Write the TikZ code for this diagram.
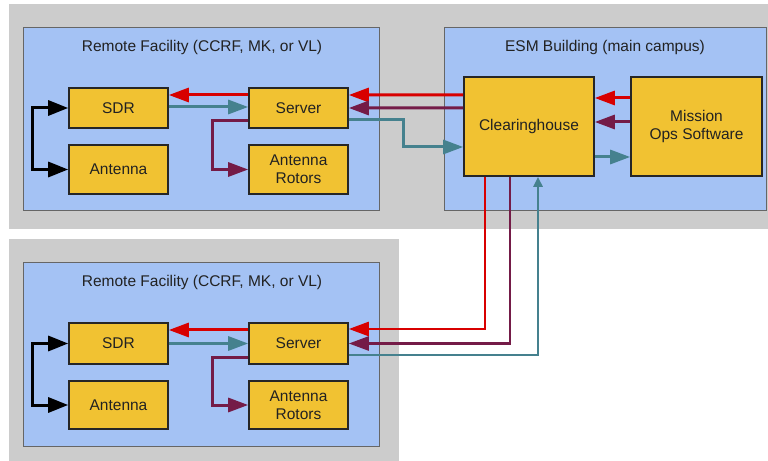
\documentclass[tikz,border=0pt]{standalone}
\usepackage{fontspec}
\setmainfont{Liberation Sans}
\usetikzlibrary{arrows.meta}
\definecolor{bggray}{HTML}{CCCCCC}
\definecolor{zoneblue}{HTML}{A4C2F4}
\definecolor{boxyellow}{HTML}{F1C232}
\definecolor{linered}{HTML}{D80000}
\definecolor{linepurple}{HTML}{741B47}
\definecolor{lineteal}{HTML}{45818E}
\definecolor{txt}{HTML}{222222}
\tikzset{
  zone/.style={draw=black!60, line width=1bp, fill=zoneblue},
  unit/.style={draw=black!85, line width=1.6bp, fill=boxyellow, text=txt, align=center,
    font=\fontsize{15.5bp}{18bp}\selectfont, inner sep=0pt},
  ztitle/.style={text=txt, font=\fontsize{15.5bp}{18bp}\selectfont},
  conn/.style={line width=3bp, line join=miter, -{Triangle[length=20bp,width=14bp]}},
  bconn/.style={line width=3bp, line join=miter, {Triangle[length=20bp,width=15bp]}-{Triangle[length=20bp,width=15bp]}},
}
\begin{document}
\begin{tikzpicture}[x=1bp,y=-1bp]
\useasboundingbox (0,0) rectangle (768,461);
% backgrounds
\fill[white] (0,0) rectangle (768,461);
\fill[bggray] (9,4) rectangle (768,229);
\fill[bggray] (9,239) rectangle (399,461);
% zones
\draw[zone] (23,28) rectangle (379,211);
\draw[zone] (444,28) rectangle (766,211);
\draw[zone] (23,263) rectangle (379,446);
\node[ztitle] (t1) at (202,47) {Remote Facility (CCRF, MK, or VL)};
\node[ztitle] (t2) at (605,47) {ESM Building (main campus)};
\node[ztitle] (t3) at (202,282) {Remote Facility (CCRF, MK, or VL)};
% top-left nodes
\node[unit, minimum width=99bp, minimum height=40bp] (sdr1) at (118.5,108) {SDR};
\node[unit, minimum width=99bp, minimum height=49bp] (ant1) at (118.5,169.5) {Antenna};
\node[unit, minimum width=99bp, minimum height=40bp] (srv1) at (298.5,108) {Server};
\node[unit, minimum width=99bp, minimum height=49bp] (rot1) at (298.5,169.5) {Antenna\\Rotors};
% ESM nodes
\node[unit, minimum width=130bp, minimum height=99bp] (ch) at (529,126.5) {Clearinghouse};
\node[unit, minimum width=131bp, minimum height=99bp] (mos) at (696.5,126.5) {Mission\\Ops Software};
% bottom nodes
\node[unit, minimum width=99bp, minimum height=41bp] (sdr2) at (118.5,343.5) {SDR};
\node[unit, minimum width=99bp, minimum height=48bp] (ant2) at (118.5,405) {Antenna};
\node[unit, minimum width=99bp, minimum height=41bp] (srv2) at (298.5,343.5) {Server};
\node[unit, minimum width=99bp, minimum height=48bp] (rot2) at (298.5,405) {Antenna\\Rotors};
% top-left connectors
\draw[conn, linered] ([yshift=13bp]srv1.west) -- ([yshift=13bp]sdr1.east);
\draw[conn, lineteal] ([yshift=1bp]sdr1.east) -- ([yshift=1bp]srv1.west);
\draw[bconn, black] (sdr1.west) -- ++(-36,0) |- (ant1.west);
\draw[conn, linepurple] ([yshift=-13bp]srv1.west) -- ++(-36,0) |- (rot1.west);
\draw[conn, linered] ([yshift=31.5bp]ch.west) -- ([yshift=13bp]srv1.east);
\draw[conn, linepurple] ([yshift=18.5bp]ch.west) -- (srv1.east);
\draw[conn, lineteal] ([yshift=-12bp]srv1.east) -- ++(55,0) |- ([yshift=-20.5bp]ch.west);
% ESM connectors
\draw[conn, linered] ([yshift=28.5bp]mos.west) -- ([yshift=28.5bp]ch.east);
\draw[conn, linepurple] ([yshift=4.5bp]mos.west) -- ([yshift=4.5bp]ch.east);
\draw[conn, lineteal] ([yshift=-30.5bp]ch.east) -- ([yshift=-30.5bp]mos.west);
% long connectors
\draw[conn, linered, line width=2.5bp] ([xshift=-44bp]ch.south) |- ([yshift=14.5bp]srv2.east);
\draw[conn, linepurple, line width=2.5bp] ([xshift=-19bp]ch.south) |- (srv2.east);
\draw[lineteal, line width=2.5bp, line join=miter, -{Triangle[length=10bp,width=9bp]}] ([yshift=-11.5bp]srv2.east) -| ([xshift=9bp]ch.south);
% bottom-left connectors
\draw[conn, linered] ([yshift=13.5bp]srv2.west) -- ([yshift=13.5bp]sdr2.east);
\draw[conn, lineteal] (sdr2.east) -- (srv2.west);
\draw[bconn, black] (sdr2.west) -- ++(-36,0) |- (ant2.west);
\draw[conn, linepurple] ([yshift=-13.5bp]srv2.west) -- ++(-36,0) |- (rot2.west);
\end{tikzpicture}
\end{document}
